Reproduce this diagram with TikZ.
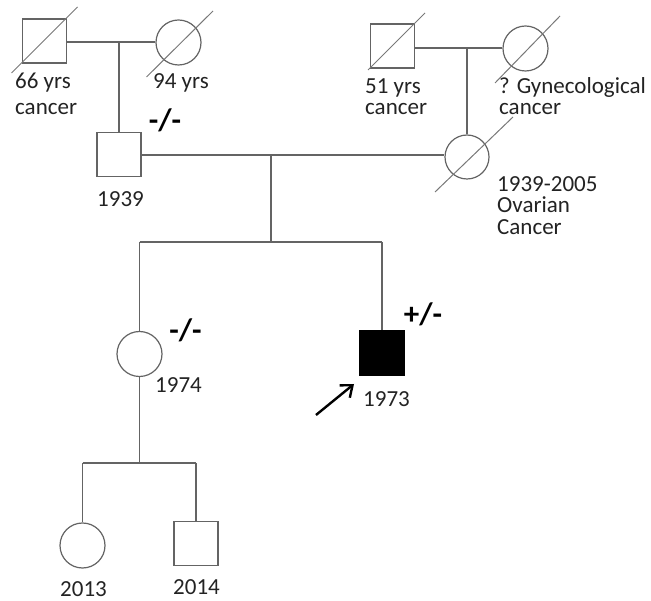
\documentclass[tikz,border=0pt]{standalone}
\usepackage{fontspec}
\setmainfont{Carlito}
\usetikzlibrary{arrows.meta,calc}
\definecolor{linecol}{RGB}{100,100,100}
\definecolor{diagcol}{RGB}{120,120,120}
\definecolor{txtcol}{RGB}{35,35,35}
\tikzset{
  male/.style={draw=linecol, line width=1.2pt, minimum size=44pt, inner sep=0pt, rectangle},
  female/.style={draw=linecol, line width=1.2pt, minimum size=45pt, inner sep=0pt, circle},
  affected/.style={fill=black, draw=black},
  conn/.style={draw=linecol, line width=1.2pt},
  deceased/.style={draw=diagcol, line width=1pt},
  lbl/.style={anchor=base west, inner sep=0pt, text=txtcol, font=\fontsize{23}{27}\selectfont},
  geno/.style={anchor=base, inner sep=0pt, text=black, font=\fontsize{31}{34}\selectfont\bfseries},
}
\begin{document}
\begin{tikzpicture}[x=1pt,y=-1pt]
\useasboundingbox (0,0) rectangle (651,601);
% generation I
\node[male] (pgf) at (44.5,41) {};
\node[female] (pgm) at (178.5,42.5) {};
\node[male] (mgf) at (392.5,46) {};
\node[female] (mgm) at (525.5,48.5) {};
% generation II
\node[male] (fa) at (119,154.5) {};
\node[female, minimum size=44pt] (mo) at (467,157) {};
% generation III
\node[female] (da) at (139.5,354) {};
\node[male, affected] (pb) at (382,353) {};
% generation IV
\node[female] (g1) at (82.5,545.5) {};
\node[male] (g2) at (196,543.5) {};

% deceased slashes
\draw[deceased] ($(pgf)+(-33,32)$) -- ($(pgf)+(33,-34)$);
\draw[deceased] ($(pgm)+(-32,34.5)$) -- ($(pgm)+(34.5,-31.5)$);
\draw[deceased] ($(mgf)+(-24.5,24)$) -- ($(mgf)+(32.5,-33)$);
\draw[deceased] ($(mgm)+(-30.5,34.5)$) -- ($(mgm)+(34.5,-32.5)$);
\draw[deceased] ($(mo)+(-32,35)$) -- ($(mo)+(46,-40)$);

% couple lines and descents
\coordinate (c1) at (119,42);
\coordinate (c2) at (467,48);
\coordinate (c3) at (271,155);
\coordinate (s3) at (271,242);
\coordinate (c4) at (139.5,463);
\draw[conn] (pgf.east |- c1) -- (pgm.west |- c1);
\draw[conn] (c1) -- (fa.north);
\draw[conn] (mgf.east |- c2) -- (mgm.west |- c2);
\draw[conn] (c2) -- (mo.north);
\draw[conn] (fa.east |- c3) -- (mo.west |- c3);
\draw[conn] (c3) -- (s3);
\draw[conn] (da.north |- s3) -- (pb.north |- s3);
\draw[conn] (da.north |- s3) -- (da.north);
\draw[conn] (pb.north |- s3) -- (pb.north);
\draw[conn] (da.south) -- (c4);
\draw[conn] (g1.north |- c4) -- (g2.north |- c4);
\draw[conn] (g1.north |- c4) -- (g1.north);
\draw[conn] (g2.north |- c4) -- (g2.north);

% proband arrow
\coordinate (arrtail) at (316,415);
\coordinate (arrtip) at (354,384);
\draw[line width=2.4pt, -{Straight Barb[length=10pt,width=16pt]}] (arrtail) -- (arrtip);

% labels
\node[lbl] (l1a) at (15,89) {66 yrs};
\node[lbl] (l1b) at (15,115) {cancer};
\node[lbl] (l2) at (153,89) {94 yrs};
\node[lbl] (l3) at (97,207) {1939};
\node[lbl] (l4a) at (365,94) {51 yrs};
\node[lbl] (l4b) at (365,115) {cancer};
\node[lbl] (l5a) at (499,94) {? Gynecological};
\node[lbl] (l5b) at (499,115) {cancer};
\node[lbl] (l6a) at (497,192) {1939-2005};
\node[lbl] (l6b) at (497,213) {Ovarian};
\node[lbl] (l6c) at (497,235) {Cancer};
\node[lbl] (l7) at (155,393) {1974};
\node[lbl] (l8) at (363,407) {1973};
\node[lbl] (l9) at (60,596) {2013};
\node[lbl] (l10) at (173,594) {2014};

% genotypes
\node[geno] (gt1) at (165,131) {-/-};
\node[geno] (gt2) at (185.5,341) {-/-};
\node[geno] (gt3) at (423,325) {+/-};
\end{tikzpicture}
\end{document}
